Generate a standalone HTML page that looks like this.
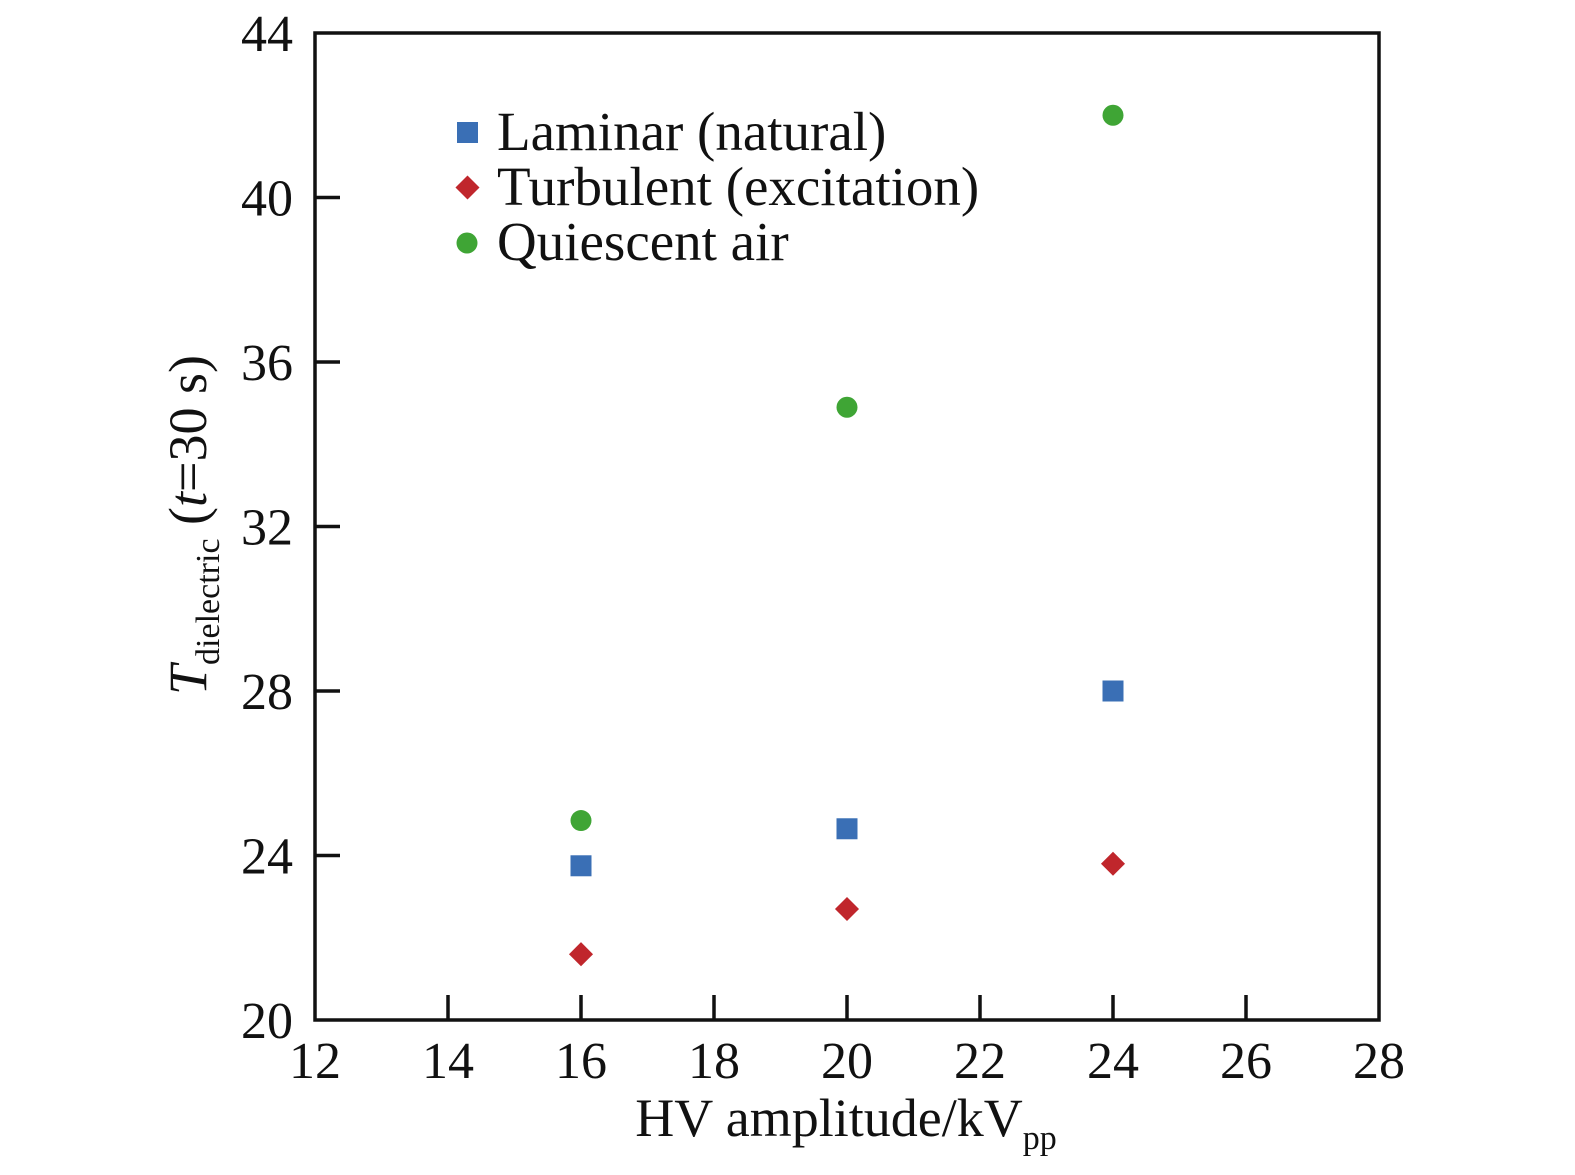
<!DOCTYPE html>
<html><head><meta charset="utf-8"><style>
html,body{margin:0;padding:0;background:#fff;}
svg{display:block;font-family:"Liberation Serif",serif;}
</style></head><body>
<svg id="chart" width="1575" height="1175" viewBox="0 0 1575 1175">
<rect x="315" y="33" width="1064" height="987" fill="none" stroke="#111" stroke-width="3.5"/>
<g id="xt"></g>
<g id="yt"></g>
<g id="marks"></g>
<text x="846" y="1136" font-size="54" text-anchor="middle" fill="#111">HV amplitude/kV<tspan font-size="34" dy="13">pp</tspan></text>
<text transform="translate(206,525) rotate(-90)" font-size="54" text-anchor="middle" fill="#111"><tspan font-style="italic">T</tspan><tspan font-size="34" dy="13">dielectric</tspan><tspan dy="-13"> (</tspan><tspan font-style="italic">t</tspan>=30 s)</text>
<g>
<g><rect x="457" y="122" width="21" height="21" fill="#3a6fb5"/><text x="497" y="150" font-size="55" fill="#111">Laminar (natural)</text></g>
<g><rect x="459" y="179" width="17" height="17" fill="#c0262c" transform="rotate(45 467.5 187.5)"/><text x="497" y="205" font-size="55" fill="#111">Turbulent (excitation)</text></g>
<g><circle cx="467" cy="243" r="10.5" fill="#3fa535"/><text x="497" y="260" font-size="55" fill="#111">Quiescent air</text></g>
</g>
</svg>
<script>
const xCategories=[16,20,24];
const laminar=[23.75,24.65,28.0];
const turbulent=[21.6,22.7,23.8];
const quiescent=[24.85,34.9,42.0];
const xTicks=[12,14,16,18,20,22,24,26,28];
const yTicks=[20,24,28,32,36,40,44];
const NS="http://www.w3.org/2000/svg";
function sx(v){return 315+(v-12)/16*1064;}
function sy(v){return 1020-(v-20)/24*987;}
function mk(tag,attrs,parent){const e=document.createElementNS(NS,tag);for(const k in attrs)e.setAttribute(k,attrs[k]);parent.appendChild(e);return e;}
const xt=document.getElementById('xt'),yt=document.getElementById('yt'),marks=document.getElementById('marks');
xTicks.forEach(v=>{
  const x=sx(v);
  if(v>12&&v<28){const l=mk('line',{x1:x,x2:x,y1:1020,y2:995,stroke:'#111','stroke-width':3.5},xt);
  
  }
  const t=mk('text',{x:x,y:1078,'font-size':52,'text-anchor':'middle',fill:'#111'},xt);t.textContent=v;
  
  
});
yTicks.forEach(v=>{
  const y=sy(v);
  if(v>20&&v<44){const l=mk('line',{x1:315,x2:340,y1:y,y2:y,stroke:'#111','stroke-width':3.5},yt);
  
  }
  const t=mk('text',{x:293,y:y+18,'font-size':52,'text-anchor':'end',fill:'#111'},yt);t.textContent=v;
  
  
});
xCategories.forEach((c,i)=>{
  const x=sx(c);
  let y=sy(quiescent[i]);
  const g=mk('circle',{cx:x,cy:y,r:10.5,fill:'#3fa535'},marks);
  
  
  y=sy(laminar[i]);
  const b=mk('rect',{x:x-10.5,y:y-10.5,width:21,height:21,fill:'#3a6fb5'},marks);
  
  
  y=sy(turbulent[i]);
  const r=mk('rect',{x:x-8.5,y:y-8.5,width:17,height:17,fill:'#c0262c',transform:`rotate(45 ${x} ${y})`},marks);
  
  
});
</script>
</body></html>
